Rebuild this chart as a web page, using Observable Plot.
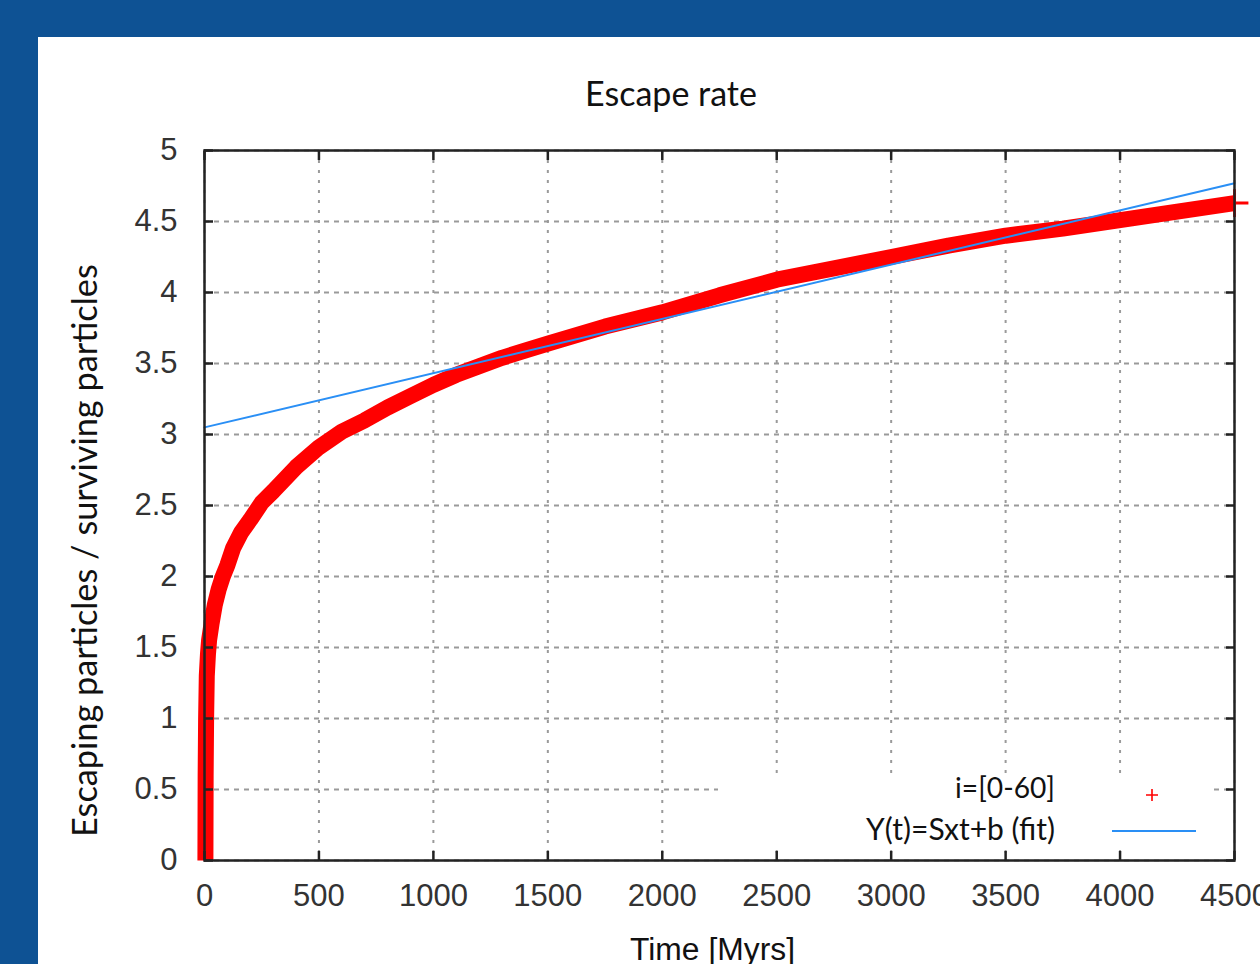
<!DOCTYPE html>
<html>
<head>
<meta charset="utf-8">
<script src="https://cdn.jsdelivr.net/npm/d3@7"></script>
<script src="https://cdn.jsdelivr.net/npm/@observablehq/plot@0.6"></script>
<style>
html, body { margin: 0; padding: 0; }
body { width: 1260px; height: 964px; background: #0e5294; position: relative; overflow: hidden; }
#panel { position: absolute; left: 38px; top: 37px; width: 1222px; height: 927px; background: #fff; }
#chart { position: absolute; left: 0; top: 0; }
.lbl { position: absolute; left: 0; top: 0; white-space: nowrap; line-height: 1; color: #111; }
.cal { font-family: Lato, "Open Sans", sans-serif; }
.ari { font-family: "Liberation Sans", Arial, sans-serif; }
.bl { display: inline-block; width: 0; height: 0; vertical-align: baseline; }
#legbox { position: absolute; left: 718px; top: 776px; width: 494px; height: 68px; background: #fff; }
#legline { position: absolute; left: 1112px; top: 830px; width: 84px; height: 2px; background: #2a8ff5; }
#legplus { position: absolute; left: 1145px; top: 788px; }
</style>
</head>
<body>
<div id="panel"><div id="chart"></div></div>
<div id="legbox"></div>
<div id="legline"></div>
<svg id="legplus" width="14" height="14"><path d="M1,7H13M7,1V13" stroke="#ff0000" stroke-width="1.6"/></svg>
<div class="lbl cal" id="title">Escape rate<span class="bl"></span></div>
<div class="lbl cal" id="ylabel">Escaping particles / surviving particles<span class="bl"></span></div>
<div class="lbl ari" id="xlabel">Time [Myrs]<span class="bl"></span></div>
<div class="lbl cal" id="leg1">i=[0-60]<span class="bl"></span></div>
<div class="lbl cal" id="leg2">Y(t)=Sxt+b (fit)<span class="bl"></span></div>
<script>
// ---- data ----
const timeMyrs = [4, 5, 7, 10, 15, 20, 31, 45, 62, 80, 100, 125, 160, 200, 250, 300, 400, 500, 600, 700, 800, 900, 1000, 1100, 1200, 1300, 1400, 1500, 1750, 2000, 2250, 2500, 2750, 3000, 3250, 3500, 3750, 4000, 4250, 4500];
const escapeRatio = [0, 0.6, 1.0, 1.3, 1.45, 1.55, 1.67, 1.8, 1.91, 2.0, 2.08, 2.2, 2.31, 2.4, 2.52, 2.6, 2.77, 2.91, 3.02, 3.1, 3.19, 3.27, 3.35, 3.42, 3.48, 3.54, 3.59, 3.64, 3.76, 3.86, 3.98, 4.09, 4.17, 4.25, 4.33, 4.40, 4.45, 4.51, 4.57, 4.63];
const fitTime = [0, 4500];
const fitValue = [3.05, 4.77];
const xTicks = [0, 500, 1000, 1500, 2000, 2500, 3000, 3500, 4000, 4500];
const yTicks = [0, 0.5, 1, 1.5, 2, 2.5, 3, 3.5, 4, 4.5, 5];

const obs = timeMyrs.map((t, i) => ({t, r: escapeRatio[i]}));
const fitLine = fitTime.map((t, i) => ({t, y: fitValue[i]}));

const tickOpts = {tickFormat: () => "", label: null, stroke: "#222", strokeWidth: 2.5, tickSize: -9};
const fmt = d => `${d}`;

const chart = Plot.plot({
  width: 1222,
  height: 927,
  marginLeft: 166,
  marginRight: 26,
  marginTop: 113,
  marginBottom: 104,
  x: {domain: [0, 4500]},
  y: {domain: [0, 5]},
  style: {fontFamily: "'Liberation Sans', Arial, sans-serif", fontSize: "31px", color: "#333", background: "transparent", overflow: "visible"},
  marks: [
    Plot.gridX(xTicks, {stroke: "#9a9a9a", strokeOpacity: 1, strokeWidth: 2, strokeDasharray: "3,7"}),
    Plot.gridY(yTicks, {stroke: "#9a9a9a", strokeOpacity: 1, strokeWidth: 2, strokeDasharray: "5,5"}),
    Plot.line(obs, {x: "t", y: "r", stroke: "#ff0000", strokeWidth: 16, strokeLinejoin: "round", strokeLinecap: "butt"}),
    Plot.dot(obs.slice(-1), {x: "t", y: "r", symbol: "plus", r: 9, stroke: "#ff0000", strokeWidth: 3}),
    Plot.line(fitLine, {x: "t", y: "y", stroke: "#2a8ff5", strokeWidth: 2}),
    Plot.frame({stroke: "#222", strokeWidth: 2.5}),
    Plot.axisX(xTicks, {anchor: "bottom", ...tickOpts}),
    Plot.axisX(xTicks, {anchor: "top", ...tickOpts}),
    Plot.axisY(yTicks, {anchor: "left", ...tickOpts}),
    Plot.axisY(yTicks, {anchor: "right", ...tickOpts}),
    Plot.axisX(xTicks, {anchor: "bottom", tickSize: 0, tickPadding: 23, label: null, tickFormat: fmt, fill: "#333"}),
    Plot.axisY(yTicks, {anchor: "left", tickSize: 0, tickPadding: 27, label: null, tickFormat: fmt, fill: "#333"})
  ]
});
document.getElementById("chart").appendChild(chart);

// ---- text layout helpers (page coordinates) ----
function fitWidth(el, target) {
  el.style.fontSize = "40px";
  const w = el.getBoundingClientRect().width;
  el.style.fontSize = (40 * target / w) + "px";
}
function baseOffset(el) {
  const b = el.querySelector(".bl");
  return b.getBoundingClientRect().top - el.getBoundingClientRect().top;
}
function placeH(id, width, baseline, {cx, right}) {
  const el = document.getElementById(id);
  fitWidth(el, width);
  const w = el.getBoundingClientRect().width;
  const off = baseOffset(el);
  el.style.top = (baseline - off) + "px";
  el.style.left = (cx !== undefined ? cx - w / 2 : right - w) + "px";
}
function placeV(id, width, baselineX, cy) {
  const el = document.getElementById(id);
  fitWidth(el, width);
  const w = el.getBoundingClientRect().width;
  const off = baseOffset(el);
  el.style.transformOrigin = "0 0";
  el.style.transform = "rotate(-90deg)";
  el.style.left = (baselineX - off) + "px";
  el.style.top = (cy + w / 2) + "px";
}
placeH("title", 172, 105.5, {cx: 671});
placeH("xlabel", 165, 960, {cx: 712.5});
placeH("leg1", 100, 798, {right: 1055});
placeH("leg2", 189, 840, {right: 1055});
placeV("ylabel", 573, 97, 551);
</script>
</body>
</html>
